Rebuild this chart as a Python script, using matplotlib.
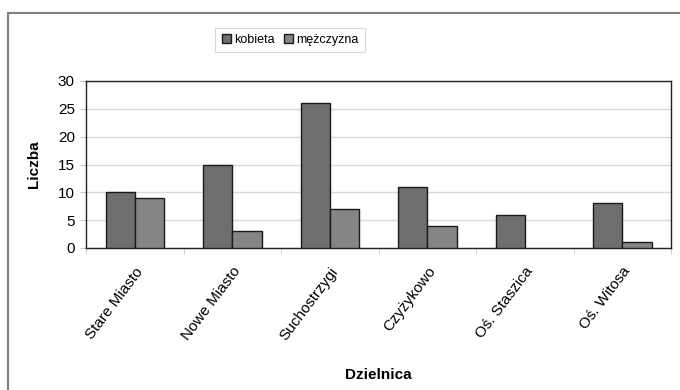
import numpy as np
import matplotlib.pyplot as plt
from matplotlib.patches import Rectangle
from matplotlib.transforms import ScaledTranslation

plt.rcParams['font.family'] = ['Liberation Sans', 'DejaVu Sans']

# liczba osob wg dzielnicy i plci
dzielnice = ['Stare Miasto', 'Nowe Miasto', 'Suchostrzygi', 'Czyżykowo',
             'Oś. Staszica', 'Oś. Witosa']
kobieta = [10, 15, 26, 11, 6, 8]
mezczyzna = [9, 3, 7, 4, 0, 1]

fig = plt.figure(figsize=(6.8, 3.9), dpi=100)
ax = fig.add_axes([86 / 680, 1 - 248 / 390, 585 / 680, 167 / 390])

# ramka wokol calego wykresu
fig.patches.append(Rectangle((8 / 680, -0.1), 1.0, 1 - 13 / 390 + 0.1,
                             transform=fig.transFigure, fill=False,
                             edgecolor='#808080', linewidth=1.5, zorder=0))

x = np.arange(len(dzielnice))
w = 0.3
# slupki o wartosci 0 bez obramowania
lw_k = [1 if v > 0 else 0 for v in kobieta]
lw_m = [1 if v > 0 else 0 for v in mezczyzna]
ax.bar(x - w / 2, kobieta, w, color='#6e6e6e', edgecolor='#1a1a1a',
       linewidth=lw_k, label='kobieta', zorder=3)
ax.bar(x + w / 2, mezczyzna, w, color='#858585', edgecolor='#1a1a1a',
       linewidth=lw_m, label='mężczyzna', zorder=3)

ax.set_xlim(-0.5, len(dzielnice) - 0.5)
ax.set_ylim(0, 30)
ax.set_yticks(range(0, 31, 5))
ax.yaxis.grid(True, color='#d9d9d9', linewidth=1, zorder=0)
ax.set_axisbelow(True)

ax.set_xticks(x)
ax.set_xticklabels(dzielnice, rotation=53, ha='right', va='top',
                   rotation_mode='anchor', fontsize=11)
shift = ScaledTranslation(-5 / 100, 0, fig.dpi_scale_trans)
for lbl in ax.get_xticklabels():
    lbl.set_transform(lbl.get_transform() + shift)
ax.set_xticks(np.arange(-0.5, len(dzielnice)), minor=True)
ax.tick_params(axis='x', which='major', length=0, pad=12)
ax.tick_params(axis='x', which='minor', length=4, color='#c8c8c8')
ax.tick_params(axis='y', length=4, color='#c8c8c8', labelsize=11, pad=4)

for s in ax.spines.values():
    s.set_color('#222222')
    s.set_linewidth(1)

ax.set_ylabel('Liczba', fontsize=11, fontweight='bold', labelpad=12)
ax.set_xlabel('Dzielnica', fontsize=11, fontweight='bold', labelpad=18)

leg = ax.legend(loc='center', bbox_to_anchor=(290 / 680, 1 - 40 / 390),
                bbox_transform=fig.transFigure, ncol=2, fontsize=9,
                frameon=True, fancybox=False, handlelength=0.75,
                handleheight=0.75, handletextpad=0.25, columnspacing=0.7,
                borderpad=0.5)
leg.get_frame().set_edgecolor('#d0d0d0')
leg.get_frame().set_linewidth(0.8)
for h in leg.legend_handles:
    h.set_linewidth(1)

fig.savefig('out.png', dpi=100)
